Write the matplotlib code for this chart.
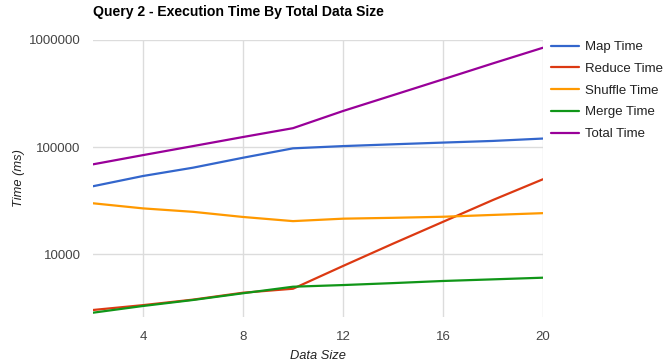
import matplotlib
matplotlib.use("Agg")
import matplotlib.pyplot as plt
from matplotlib.ticker import FixedLocator, NullLocator

plt.rcParams["font.family"] = ["Liberation Sans", "DejaVu Sans"]

# values (ms)
data_size = [2, 4, 6, 8, 10, 12, 14, 16, 18, 20]
map_time = [43000, 53600, 64100, 79400, 97200, 102000, 106000, 110000, 114000, 120000]
reduce_time = [3000, 3330, 3750, 4350, 4740, 7730, 12500, 20000, 32000, 50000]
shuffle_time = [29800, 26700, 24800, 22200, 20300, 21400, 21800, 22300, 23200, 24100]
merge_time = [2830, 3270, 3720, 4300, 4950, 5130, 5350, 5600, 5800, 6010]
total_time = [68900, 84000, 102000, 124000, 150000, 217000, 305000, 429000, 605000, 847000]

series = [
    ("Map Time", map_time, "#3366cc"),
    ("Reduce Time", reduce_time, "#dc3912"),
    ("Shuffle Time", shuffle_time, "#ff9900"),
    ("Merge Time", merge_time, "#109618"),
    ("Total Time", total_time, "#990099"),
]
x_ticks = [4, 8, 12, 16, 20]
y_ticks = [10000, 100000, 1000000]

fig = plt.figure(figsize=(6.64, 3.64), dpi=100)
ax = fig.add_axes([93 / 664, 1 - 317 / 364, 450 / 664, 277 / 364])

for label, vals, color in series:
    ax.plot(data_size, vals, color=color, lw=1.6, label=label, solid_capstyle="round")

ax.set_yscale("log")
ax.set_xlim(2, 20)
ax.set_ylim(2580, 1000000)
ax.xaxis.set_major_locator(FixedLocator(x_ticks))
ax.yaxis.set_major_locator(FixedLocator(y_ticks))
ax.yaxis.set_minor_locator(NullLocator())
ax.set_xticklabels([str(t) for t in x_ticks])
ax.set_yticklabels([str(t) for t in y_ticks])
ax.tick_params(length=0, labelsize=9.5, colors="#444444")
ax.tick_params(axis="y", pad=9)
ax.tick_params(axis="x", pad=10)
ax.grid(True, color="#dcdcdc", lw=1)
ax.set_axisbelow(True)
for spine in ax.spines.values():
    spine.set_visible(False)

ax.set_xlabel("Data Size", fontstyle="italic", fontsize=9.3, color="#222222", labelpad=5)
ax.set_ylabel("Time (ms)", fontstyle="italic", fontsize=9.3, color="#222222", labelpad=3)

fig.text(93 / 664, 1 - 12 / 364, "Query 2 - Execution Time By Total Data Size",
         fontsize=10.1, fontweight="bold", color="#000000", va="center", ha="left")

leg = fig.legend(loc="upper left", bbox_to_anchor=(551 / 664, 1 - 41 / 364),
                 frameon=False, fontsize=9.5, handlelength=2.1, handletextpad=0.45,
                 labelspacing=0.72, borderpad=0, borderaxespad=0)
for t in leg.get_texts():
    t.set_color("#222222")

fig.savefig("out.png", dpi=100)
